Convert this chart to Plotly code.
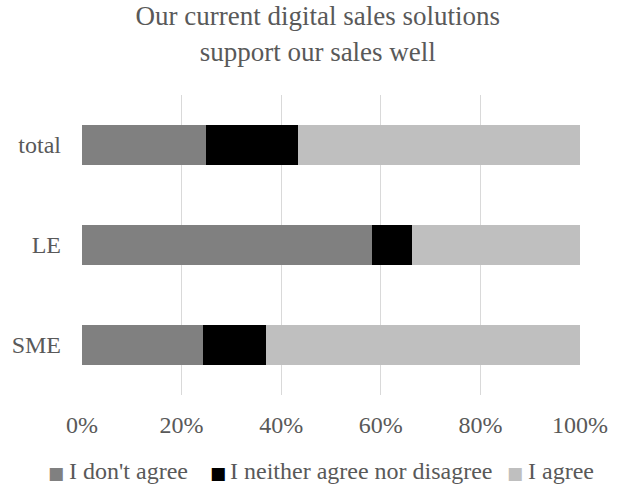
import plotly.graph_objects as go

categories = ["total", "LE", "SME"]
dont_agree = [24.9, 58.2, 24.3]
neither = [18.4, 8.0, 12.7]
agree = [56.7, 33.8, 63.0]
series_names = ["I don't agree", "I neither agree nor disagree", "I agree"]
colors = ["#808080", "#000000", "#bfbfbf"]
x_ticks = [0, 20, 40, 60, 80, 100]
x_tick_labels = ["0%", "20%", "40%", "60%", "80%", "100%"]

fig = go.Figure()
for name, vals, col in zip(series_names, [dont_agree, neither, agree], colors):
    fig.add_trace(go.Bar(
        y=categories, x=vals, name=name, orientation="h",
        marker=dict(color=col, line=dict(width=0)),
    ))

font_fam = "Liberation Serif"
txt_col = "#595959"

# custom legend (Excel-like compact squares)
legend_square_x = [-0.0522, 0.2731, 0.8685]
legend_text_x = [-0.0301, 0.2932, 0.8916]
legend_y = -0.255
for name, col, sx, tx in zip(series_names, colors, legend_square_x, legend_text_x):
    fig.add_annotation(text="■", x=sx, y=legend_y - 0.006, xref="paper", yref="paper",
                       xanchor="center", yanchor="middle", showarrow=False,
                       font=dict(family="DejaVu Sans", size=17, color=col))
    fig.add_annotation(text=name, x=tx, y=legend_y, xref="paper", yref="paper",
                       xanchor="left", yanchor="middle", showarrow=False,
                       font=dict(family=font_fam, size=24, color=txt_col))

fig.update_layout(
    barmode="stack",
    bargap=0.6,
    width=617, height=489,
    margin=dict(l=82, r=37, t=95, b=94, autoexpand=False),
    paper_bgcolor="white", plot_bgcolor="white",
    font=dict(family=font_fam, color=txt_col, size=24),
    title=dict(text="Our current digital sales solutions<br>support our sales well",
               x=0.515, xanchor="center", yref="container", y=0.948, yanchor="top",
               font=dict(family=font_fam, size=27, color=txt_col)),
    xaxis=dict(range=[0, 100], tickvals=x_ticks, ticktext=x_tick_labels,
               showgrid=True, gridcolor="#d9d9d9", gridwidth=1,
               zeroline=False, showline=False, ticks="",
               automargin=False, ticklabelstandoff=13,
               tickfont=dict(family=font_fam, size=24, color=txt_col)),
    yaxis=dict(categoryorder="array", categoryarray=categories[::-1],
               showgrid=False, showline=False, ticks="",
               automargin=False, ticklabelstandoff=20,
               tickfont=dict(family=font_fam, size=24, color=txt_col)),
    showlegend=False,
)
fig.write_html("out.html", config={"displayModeBar": False},
               post_script="document.body.style.margin='0';")
